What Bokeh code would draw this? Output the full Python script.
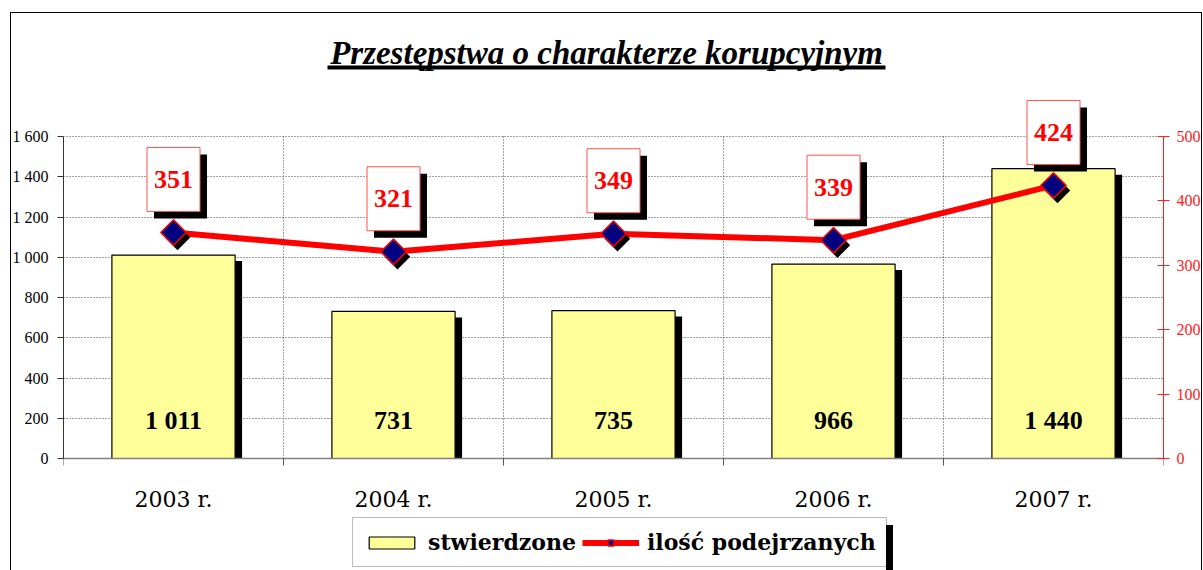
import math
from bokeh.plotting import figure
from bokeh.models import (Range1d, LinearAxis, FixedTicker, BoxAnnotation, Label,
                          Legend, LegendItem, CustomJSTickFormatter, InlineStyleSheet)
from bokeh.embed import file_html
from bokeh.resources import INLINE
from bokeh.core.properties import value

# ---------------- data ----------------
years = ["2003 r.", "2004 r.", "2005 r.", "2006 r.", "2007 r."]
stwierdzone = [1011, 731, 735, 966, 1440]
podejrzani = [351, 321, 349, 339, 424]
left_ticks = [0, 200, 400, 600, 800, 1000, 1200, 1400, 1600]
right_ticks = [0, 100, 200, 300, 400, 500]
title_text = "Przestępstwa o charakterze korupcyjnym"
series_names = ["stwierdzone", "ilość podejrzanych"]


def pl_num(v):
    return f"{v:,}".replace(",", " ")


n = len(years)
xc = [i + 0.5 for i in range(n)]

# ---------------- geometry (px) ----------------
W, H = 1203, 570
FL, FR = 63, 1165          # plot frame left / right
FT, FB = 20, 570           # plot frame top / bottom
Y0 = 458                   # pixel row of value 0
axis_px = 322              # pixels for the full axis span
px_left = axis_px / left_ticks[-1]
px_right = axis_px / right_ticks[-1]
cat_px = (FR - FL) / n

SERIF = "Liberation Serif"
SERIF2 = "DejaVu Serif"

p = figure(width=W, height=H, x_range=Range1d(0, n),
           y_range=Range1d(-(FB - Y0) / px_left, (Y0 - FT) / px_left),
           output_backend="svg", toolbar_location=None, title=None,
           x_axis_location="above",
           min_border_left=FL, min_border_right=W - FR,
           min_border_top=FT, min_border_bottom=H - FB)
p.outline_line_color = None
p.background_fill_color = "white"
p.border_fill_color = "white"
p.extra_y_ranges = {"right": Range1d(-(FB - Y0) / px_right, (Y0 - FT) / px_right)}

css = """
:host::after { content: ""; position: absolute; left: 10px; top: 12px; width: 1192px;
  height: 558px; border: 1px solid black; border-bottom: none; box-sizing: border-box;
  pointer-events: none; z-index: 5; }
:host::before { content: ""; position: absolute; left: 886px; top: 525px; width: 7px;
  height: 45px; background: black; pointer-events: none; z-index: 5; }
"""
p.stylesheets = [InlineStyleSheet(css=css)]

# ---------------- axes ----------------
yax = p.yaxis[0]
yax.ticker = FixedTicker(ticks=left_ticks)
yax.bounds = (left_ticks[0], left_ticks[-1])
yax.formatter = CustomJSTickFormatter(
    code=r"return tick.toFixed(0).replace(/\B(?=(\d{3})+(?!\d))/g, ' ')")
yax.axis_line_color = "#333333"
yax.major_tick_line_color = "#333333"
yax.major_tick_in = 0
yax.major_tick_out = 6
yax.minor_tick_line_color = None
yax.major_label_standoff = 9
yax.major_label_text_font = SERIF
yax.major_label_text_font_size = "16px"
yax.major_label_text_color = "black"

rax = LinearAxis(y_range_name="right", ticker=FixedTicker(ticks=right_ticks),
                 bounds=(right_ticks[0], right_ticks[-1]))
rax.axis_line_color = "#ff2020"
rax.major_tick_line_color = "#ff2020"
rax.major_tick_in = 6
rax.major_tick_out = 6
rax.minor_tick_line_color = None
rax.major_label_standoff = 7
rax.major_label_text_font = SERIF
rax.major_label_text_font_size = "16px"
rax.major_label_text_color = "#ff2020"
p.add_layout(rax, "right")

# category axis line drawn at value 0, ticks at category boundaries
xax = p.xaxis[0]
xax.fixed_location = 0
xax.ticker = FixedTicker(ticks=[], minor_ticks=list(range(n + 1)))
xax.axis_line_color = "#808080"
xax.axis_line_width = 1.5
xax.major_tick_line_color = None
xax.major_tick_in = 0
xax.major_tick_out = 0
xax.minor_tick_line_color = "#555555"
xax.minor_tick_in = 7
xax.minor_tick_out = 0
xax.major_label_standoff = 0

# category labels
p.text(x=xc, y=[0] * n, text=years, y_offset=41, text_align="center",
       text_baseline="middle", text_font=value(SERIF2), text_font_size="22px",
       text_color="black")

# ---------------- grid ----------------
p.xgrid.visible = False
p.ygrid.ticker = FixedTicker(ticks=left_ticks[1:])
p.ygrid.grid_line_color = "#444444"
p.ygrid.grid_line_dash = "1 2"
p.ygrid.grid_line_width = 1
bounds = list(range(1, n))
p.segment(x0=bounds, y0=[left_ticks[0]] * len(bounds), x1=bounds,
          y1=[left_ticks[-1]] * len(bounds), line_color="#444444",
          line_dash="1 2", line_width=1)

# ---------------- bars ----------------
bw = 0.56
p.vbar(x=[x + 7 / cat_px for x in xc], top=[v - 6 / px_left for v in stwierdzone],
       bottom=0, width=bw, fill_color="black", line_color=None)
bars = p.vbar(x=xc, top=stwierdzone, bottom=0, width=bw, fill_color="#FFFF99",
              line_color="black", line_width=1.2)
p.text(x=xc, y=[0] * n, text=[pl_num(v) for v in stwierdzone], y_offset=-38,
       text_align="center", text_baseline="middle", text_font=value(SERIF),
       text_font_style="bold", text_font_size="26px", text_color="black")

# ---------------- line ----------------
line = p.line(xc, podejrzani, y_range_name="right", line_color="#ff0000", line_width=6)
p.scatter(x=[x + 4 / cat_px for x in xc], y=[v - 5 / px_right for v in podejrzani],
          y_range_name="right", marker="square", angle=math.pi / 4, size=18,
          fill_color="black", line_color=None)
marks = p.scatter(x=xc, y=podejrzani, y_range_name="right", marker="square",
                  angle=math.pi / 4, size=18, fill_color="#000080",
                  line_color="#ff0000", line_width=1.5)

# value boxes above points
box_dy = 53 / px_right
p.rect(x=[x + 7 / cat_px for x in xc], y=[v + box_dy - 7 / px_right for v in podejrzani],
       width=53, height=64, width_units="screen", height_units="screen",
       y_range_name="right", fill_color="black", line_color=None)
p.rect(x=xc, y=[v + box_dy for v in podejrzani], width=53, height=64,
       width_units="screen", height_units="screen", y_range_name="right",
       fill_color="white", line_color="#ff5050", line_width=1)
p.text(x=xc, y=podejrzani, text=[str(v) for v in podejrzani], y_offset=-53,
       y_range_name="right", text_align="center", text_baseline="middle",
       text_font=value(SERIF), text_font_style="bold", text_font_size="26px",
       text_color="#ff0000")

# ---------------- title ----------------
p.add_layout(Label(x=606 - FL, y=FB - 52, x_units="screen", y_units="screen",
                   text=title_text, text_align="center", text_baseline="alphabetic",
                   text_font=SERIF, text_font_style="bold italic",
                   text_font_size="33px", text_color="black"))
p.add_layout(BoxAnnotation(left=327 - FL, right=885 - FL, top=FB - 65, bottom=FB - 69,
                           left_units="screen", right_units="screen",
                           top_units="screen", bottom_units="screen",
                           fill_color="black", fill_alpha=1, line_color=None))

# ---------------- legend ----------------
legend = Legend(items=[LegendItem(label=series_names[0], renderers=[bars]),
                       LegendItem(label=series_names[1], renderers=[line, marks])],
                location=(352 - FL, FB - 567), orientation="horizontal",
                glyph_width=57, glyph_height=15, label_standoff=8, spacing=6,
                padding=10, margin=0, label_height=28,
                border_line_color="#777777", border_line_width=1.5,
                background_fill_color="white", background_fill_alpha=1,
                label_text_font=SERIF2, label_text_font_style="bold",
                label_text_font_size="22px", label_text_color="black")
p.add_layout(legend)

open("out.html", "w").write(file_html(p, INLINE))
